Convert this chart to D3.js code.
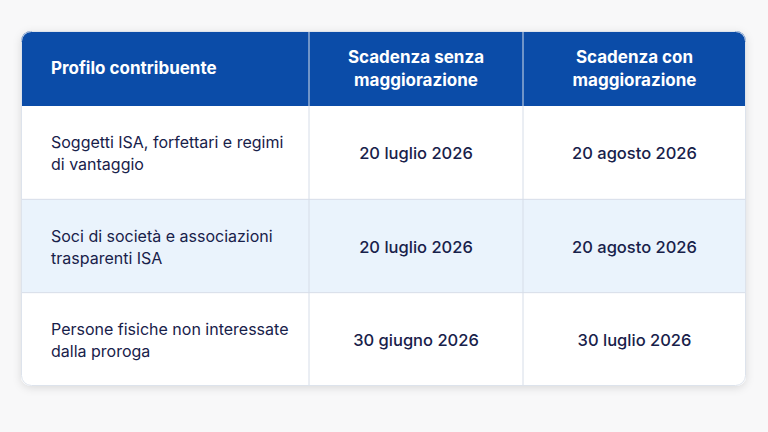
<!DOCTYPE html>
<html>
<head>
<meta charset="utf-8">
<script src="https://cdn.jsdelivr.net/npm/d3@7"></script>
<style>
  body { margin: 0; background: #f8f8f9; }
  svg { display: block; font-family: Inter, "Noto Sans", sans-serif; }
</style>
</head>
<body>
<svg id="chart" width="768" height="432"></svg>
<script>
// table contents
const headers = [["Profilo contribuente"], ["Scadenza senza", "maggiorazione"], ["Scadenza con", "maggiorazione"]];
const profiles = [
  ["Soggetti ISA, forfettari e regimi", "di vantaggio"],
  ["Soci di società e associazioni", "trasparenti ISA"],
  ["Persone fisiche non interessate", "dalla proroga"]
];
const withoutSurcharge = ["20 luglio 2026", "20 luglio 2026", "30 giugno 2026"];
const withSurcharge = ["20 agosto 2026", "20 agosto 2026", "30 luglio 2026"];

const svg = d3.select('#chart');
const tLeft = 21, tRight = 746, tTop = 31, headH = 75, tBottom = 386;

const defs = svg.append('defs');
const f = defs.append('filter').attr('id', 'sh').attr('x', '-5%').attr('y', '-5%').attr('width', '110%').attr('height', '115%');
f.append('feDropShadow').attr('dx', 0).attr('dy', 2).attr('stdDeviation', 4).attr('flood-color', '#000').attr('flood-opacity', 0.12);
defs.append('clipPath').attr('id', 'clip').append('rect')
  .attr('x', tLeft).attr('y', tTop).attr('width', tRight - tLeft).attr('height', tBottom - tTop).attr('rx', 10);

// column edges
const colX = [tLeft, 309, 523, tRight];
const y = d3.scaleBand().domain(d3.range(profiles.length)).range([tTop + headH, tBottom]);

svg.append('rect').attr('x', tLeft).attr('y', tTop).attr('width', tRight - tLeft).attr('height', tBottom - tTop)
  .attr('rx', 10).attr('fill', '#fff').attr('filter', 'url(#sh)');

const g = svg.append('g').attr('clip-path', 'url(#clip)');
g.append('rect').attr('x', tLeft).attr('y', tTop).attr('width', tRight - tLeft).attr('height', headH).attr('fill', '#0b4ca8');

g.selectAll('rect.row').data(profiles).join('rect').attr('class', 'row')
  .attr('x', tLeft).attr('y', (d, i) => y(i)).attr('width', tRight - tLeft).attr('height', y.bandwidth())
  .attr('fill', (d, i) => i === 1 ? '#eaf3fc' : '#fff');

// grid lines
g.selectAll('line.h').data(d3.range(1, profiles.length)).join('line').attr('class', 'h')
  .attr('x1', tLeft).attr('x2', tRight).attr('y1', i => y(i)).attr('y2', i => y(i))
  .attr('stroke', '#d6dde8');
g.selectAll('line.v').data([1, 2]).join('line').attr('class', 'v')
  .attr('x1', i => colX[i]).attr('x2', i => colX[i]).attr('y1', tTop).attr('y2', tBottom)
  .attr('stroke', '#d6dde8');
svg.append('rect').attr('x', tLeft + 0.5).attr('y', tTop + 0.5).attr('width', tRight - tLeft - 1).attr('height', tBottom - tTop - 1)
  .attr('rx', 10).attr('fill', 'none').attr('stroke', '#dde3ec');

function lines(sel, arr, x, cy, anchor, lh) {
  const t = sel.append('text').attr('text-anchor', anchor);
  arr.forEach((s, k) => t.append('tspan').attr('x', x)
    .attr('y', cy + (k - (arr.length - 1) / 2) * lh).attr('dy', '0.35em').text(s));
  return t;
}

const hy = tTop + headH / 2;
headers.forEach((h, i) => {
  const x = i === 0 ? 51 : (colX[i] + colX[i + 1]) / 2;
  lines(svg, h, x, hy, i === 0 ? 'start' : 'middle', 23)
    .attr('fill', '#fff').attr('font-size', 17).attr('font-weight', 700);
});

profiles.forEach((p, i) => {
  const cy = y(i) + y.bandwidth() / 2 + 1;
  lines(svg, p, 51, cy, 'start', 22).attr('fill', '#18214a').attr('font-size', 16);
  lines(svg, [withoutSurcharge[i]], (colX[1] + colX[2]) / 2, cy, 'middle', 22)
    .attr('fill', '#18214a').attr('font-size', 16.5).attr('font-weight', 500);
  lines(svg, [withSurcharge[i]], (colX[2] + colX[3]) / 2, cy, 'middle', 22)
    .attr('fill', '#18214a').attr('font-size', 16.5).attr('font-weight', 500);
});
</script>
</body>
</html>
